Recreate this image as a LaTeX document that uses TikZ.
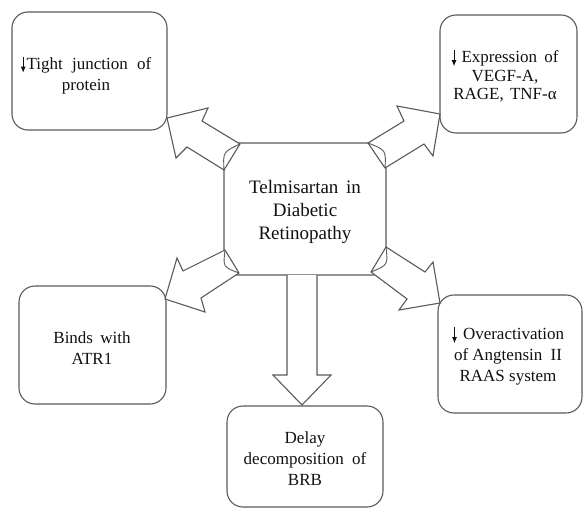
\documentclass[tikz,border=0pt]{standalone}
\usepackage{fontspec}
\setmainfont{Liberation Serif}
\usetikzlibrary{arrows.meta}
\definecolor{lc}{HTML}{5A5A5A}
\definecolor{tc}{HTML}{111111}
\newcommand\dnarr{\tikz[x=1pt,y=1pt,baseline=0pt]{\draw[line width=0.9pt,draw=tc,-{Latex[length=6pt,width=5pt]}] (0,12.5) -- (0,-3.5);}}
\begin{document}
\begin{tikzpicture}[x=1pt,y=-1pt,
  box/.style={draw=lc, line width=1.1pt, rounded corners=16pt, fill=white, inner sep=0pt},
  blk/.style={draw=lc, line width=1.1pt, fill=white, line join=miter},
  lens/.style={draw=lc, line width=0.9pt},
  txt/.style={align=center, text=tc, font=\fontsize{17}{21}\selectfont},
  bigtxt/.style={align=center, text=tc, font=\fontsize{19}{23}\selectfont}]
\useasboundingbox (0,0) rectangle (583,508);

% boxes
\node[box, minimum width=155pt, minimum height=118pt] (tl) at (89.5,71) {};
\node[box, minimum width=137pt, minimum height=118pt] (tr) at (508.5,74) {};
\node[box, rounded corners=13pt, minimum width=162pt, minimum height=132pt] (c) at (305,209) {};
\node[box, minimum width=147pt, minimum height=118pt] (bl) at (92.5,345) {};
\node[box, minimum width=144pt, minimum height=118pt] (br) at (510,354) {};
\node[box, minimum width=156pt, minimum height=101pt] (bc) at (305,456.5) {};

% texts
\node[txt] (tlt) at (86,75) {\dnarr\hspace{1pt}Tight\hspace{5pt} junction\hspace{5pt} of\\ protein};
\node[txt, font=\fontsize{17}{18.5}\selectfont] (trt) at (505,76) {\dnarr\hspace{5pt}Expression\hspace{3pt} of\\ VEGF-A,\\ RAGE,\hspace{2pt} TNF-α};
\node[bigtxt] (ct) at (305,212) {Telmisartan\hspace{3pt} in\\ Diabetic\\ Retinopathy};
\node[txt] (blt) at (92,348) {Binds\hspace{3pt} with\\ ATR1};
\node[txt] (brt) at (508,356) {\dnarr\hspace{6pt}Overactivation\\ of Angtensin\hspace{4pt} II\\ RAAS system};
\node[txt] (bct) at (305,459) {Delay\\ decomposition\hspace{4pt} of\\ BRB};

% block arrows: top-left
\coordinate (a1b1) at (240,144); \coordinate (a1b2) at (224,170);
\draw[blk] (a1b1) -- (202,121) -- (208,108) -- (167,118) -- (176,158) -- (187,147) -- (a1b2) -- cycle;
\draw[lens] (a1b1) .. controls (223,152) .. (a1b2);
% top-right
\coordinate (a2b1) at (368,143); \coordinate (a2b2) at (385,168);
\draw[blk] (a2b1) -- (404,121) -- (397,106) -- (440,114) -- (433,156) -- (424,144) -- (a2b2) -- cycle;
\draw[lens] (a2b1) .. controls (386,150) .. (a2b2);
% bottom-left
\coordinate (a3b1) at (225,250); \coordinate (a3b2) at (239,273);
\draw[blk] (a3b1) -- (183,271) -- (177,258) -- (165,299) -- (205,312) -- (201,298) -- (a3b2) -- cycle;
\draw[lens] (a3b1) .. controls (223,267) .. (a3b2);
% bottom-right
\coordinate (a4b1) at (386,247); \coordinate (a4b2) at (371,272);
\draw[blk] (a4b1) -- (425,272) -- (433,262) -- (440,303) -- (399,310) -- (407,299) -- (a4b2) -- cycle;
\draw[lens] (a4b1) .. controls (388,265) .. (a4b2);
% down arrow
\draw[blk] (287,275) -- (287,375) -- (273,375) -- (302,405) -- (331,375) -- (317,375) -- (317,275);
\end{tikzpicture}
\end{document}
